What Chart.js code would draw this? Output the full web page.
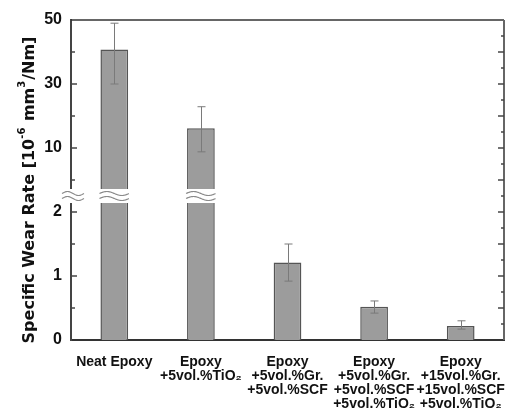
<!DOCTYPE html>
<html><head><meta charset="utf-8">
<script src="https://cdn.jsdelivr.net/npm/chart.js@4"></script>
<style>html,body{margin:0;padding:0;background:#fff}</style>
</head><body>
<canvas id="c" width="526" height="410"></canvas>
<script>
// ---- data ----
const categories = [
  ['Neat Epoxy'],
  ['Epoxy', '+5vol.%TiO\u2082'],
  ['Epoxy', '+5vol.%Gr.', '+5vol.%SCF'],
  ['Epoxy', '+5vol.%Gr.', '+5vol.%SCF', '+5vol.%TiO\u2082'],
  ['Epoxy', '+15vol.%Gr.', '+15vol.%SCF', '+5vol.%TiO\u2082']
];
const wearRate  = [40.8, 16.2, 1.21, 0.52, 0.22];
const errorLow  = [30, 8.8, 0.92, 0.42, 0.17];
const errorHigh = [49, 22.9, 1.5, 0.61, 0.30];
const lowerTickLabels = [0, 1, 2];
const upperTickLabels = [10, 30, 50];
const lowerMinorTicks = [0.5, 1.5];
const upperMinorTicks = [0, 20, 40];
const rightLowerMajor = [0.5, 1, 1.5, 2];
const rightLowerMinor = [0.25, 0.75, 1.25, 1.75, 2.25];
const rightUpperMajor = [0, 10, 20, 30, 40, 50];
const rightUpperMinor = [5, 15, 25, 35, 45];
const lowerRange = [0, 2.25];
const upperRange = [-5, 50];

const FONT = '"Liberation Sans", Arial, "DejaVu Sans", sans-serif';

function line(ctx, x0, y0, x1, y1) { ctx.beginPath(); ctx.moveTo(x0, y0); ctx.lineTo(x1, y1); ctx.stroke(); }
function wave(ctx, x0, x1, yc, a) {
  ctx.beginPath();
  for (let x = x0; x <= x1; x += 0.5) {
    const y = yc - a * Math.sin(2 * Math.PI * (x - x0) / (x1 - x0));
    if (x === x0) ctx.moveTo(x, y); else ctx.lineTo(x, y);
  }
  ctx.stroke();
}

const decorations = {
  id: 'decorations',
  afterDatasetsDraw(chart) {
    const ctx = chart.ctx, ca = chart.chartArea;
    const xs = chart.scales.x, yl = chart.scales.yLower, yu = chart.scales.yUpper;
    ctx.save();
    // error bars
    ctx.strokeStyle = '#7a7a7a'; ctx.lineWidth = 1;
    wearRate.forEach((v, i) => {
      const ys = v > lowerRange[1] ? yu : yl;
      const x = Math.round(xs.getPixelForValue(i)) + 0.5;
      const y0 = ys.getPixelForValue(errorLow[i]), y1 = ys.getPixelForValue(errorHigh[i]);
      line(ctx, x, y0, x, y1);
      line(ctx, x - 4, y0, x + 4, y0);
      line(ctx, x - 4, y1, x + 4, y1);
    });
    // frame top & right
    ctx.strokeStyle = '#333'; ctx.lineWidth = 1.5;
    line(ctx, ca.left, ca.top, ca.right, ca.top);
    ctx.strokeStyle = '#666'; ctx.lineWidth = 2;
    line(ctx, ca.right, ca.top, ca.right, ca.bottom);
    // inward ticks
    ctx.strokeStyle = '#444'; ctx.lineWidth = 1.5;
    const lt = (s, vals, len) => vals.forEach(v => { const y = s.getPixelForValue(v); line(ctx, ca.left, y, ca.left + len, y); });
    const rt = (s, vals, len) => vals.forEach(v => { const y = s.getPixelForValue(v); line(ctx, ca.right, y, ca.right - len, y); });
    lt(yl, lowerTickLabels.filter(v => v > 0), 6); lt(yl, lowerMinorTicks, 4);
    lt(yu, upperTickLabels.filter(v => v < upperRange[1]), 6); lt(yu, upperMinorTicks, 4);
    rt(yl, rightLowerMajor, 6); rt(yl, rightLowerMinor, 3);
    rt(yu, rightUpperMajor.filter(v => v < upperRange[1]), 6); rt(yu, rightUpperMinor, 3);
    // axis break
    const yb = yl.top;
    const breakAt = (x0, x1) => {
      ctx.fillStyle = '#fff';
      ctx.fillRect(x0, yb - 7, x1 - x0, 14);
      ctx.strokeStyle = '#8a8a8a'; ctx.lineWidth = 1.2;
      wave(ctx, x0, x1, yb - 2.5, 2);
      wave(ctx, x0, x1, yb + 2.5, 2);
    };
    breakAt(ca.left - 9, ca.left + 13);
    const meta = chart.getDatasetMeta(1);
    wearRate.forEach((v, i) => {
      if (v > lowerRange[1]) {
        const el = meta.data[i];
        breakAt(el.x - el.width / 2 - 1, el.x + el.width / 2 + 1);
      }
    });
    ctx.restore();
  },
  afterDraw(chart) {
    const ctx = chart.ctx, ca = chart.chartArea;
    ctx.save();
    const main = 'bold 16px "DejaVu Sans", sans-serif';
    const sup = 'bold 10px "DejaVu Sans", sans-serif';
    const parts = [
      ['Specific Wear Rate [10', main, 0],
      ['-6', sup, 9],
      [' mm', main, 0],
      ['3', sup, 9],
      ['/Nm]', main, 0]
    ];
    let total = 0;
    parts.forEach(p => { ctx.font = p[1]; p.push(ctx.measureText(p[0]).width); total += p[3] + (p[2] ? 1 : 0); });
    ctx.translate(33.5, (ca.top + ca.bottom) / 2 + 10);
    ctx.rotate(-Math.PI / 2);
    ctx.fillStyle = '#111';
    ctx.textBaseline = 'alphabetic';
    let x = -total / 2;
    parts.forEach(p => {
      ctx.font = p[1];
      ctx.fillText(p[0], x, -p[2]);
      x += p[3] + (p[2] ? 1 : 0);
    });
    ctx.restore();
  }
};

const tickFont = { family: FONT, weight: 'bold', size: 16 };

new Chart(document.getElementById('c'), {
  type: 'bar',
  data: {
    labels: categories,
    datasets: [
      {
        label: 'lower',
        data: wearRate.map(v => Math.min(v, lowerRange[1])),
        yAxisID: 'yLower', grouped: false,
        backgroundColor: '#9c9c9c', borderColor: '#555', borderWidth: 1.5,
        barPercentage: 0.32, categoryPercentage: 1
      },
      {
        label: 'upper',
        data: wearRate.map(v => v > lowerRange[1] ? [upperRange[0], v] : null),
        yAxisID: 'yUpper', grouped: false,
        backgroundColor: '#9c9c9c', borderColor: '#555', borderWidth: 1.5,
        barPercentage: 0.32, categoryPercentage: 1
      }
    ]
  },
  options: {
    responsive: false, animation: false, devicePixelRatio: 1,
    layout: { padding: { top: 20, right: 22, left: 0, bottom: 0 } },
    plugins: { legend: { display: false }, tooltip: { enabled: false } },
    scales: {
      x: {
        grid: { display: false, drawTicks: false },
        border: { display: true, color: '#333', width: 2 },
        ticks: { font: { family: FONT, weight: 'bold', size: 14, lineHeight: '14px' }, color: '#111', padding: 15, maxRotation: 0, autoSkip: false },
        afterFit: s => { s.height = 70; }
      },
      yLower: {
        type: 'linear', position: 'left', stack: 'wear', stackWeight: 144,
        min: lowerRange[0], max: lowerRange[1],
        grid: { display: false, drawTicks: false },
        border: { display: true, color: '#444', width: 2 },
        ticks: { font: tickFont, color: '#111', padding: 9, callback: v => String(v) },
        afterBuildTicks: s => { s.ticks = lowerTickLabels.map(v => ({ value: v })); },
        afterFit: s => { s.width = 71; }
      },
      yUpper: {
        type: 'linear', position: 'left', stack: 'wear', stackWeight: 176,
        min: upperRange[0], max: upperRange[1],
        grid: { display: false, drawTicks: false },
        border: { display: true, color: '#444', width: 2 },
        ticks: { font: tickFont, color: '#111', padding: 9, callback: v => String(v) },
        afterBuildTicks: s => { s.ticks = upperTickLabels.map(v => ({ value: v })); },
        afterFit: s => { s.width = 71; }
      }
    }
  },
  plugins: [decorations]
});
</script>
</body></html>
